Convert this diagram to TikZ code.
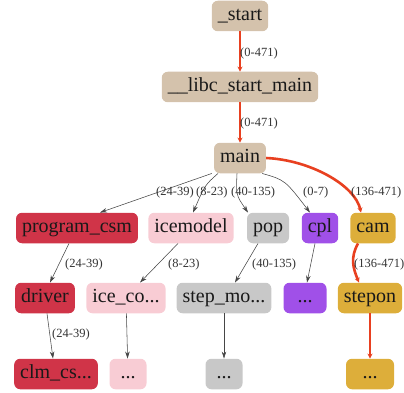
\documentclass[tikz,border=0pt]{standalone}
\usepackage{fontspec}
\setmainfont{Liberation Serif}
\usetikzlibrary{arrows.meta}

\definecolor{tan}{RGB}{212,194,172}
\definecolor{crim}{RGB}{208,52,72}
\definecolor{pinky}{RGB}{248,204,212}
\definecolor{greyish}{RGB}{200,200,200}
\definecolor{purp}{RGB}{160,80,232}
\definecolor{gold}{RGB}{221,174,58}
\definecolor{hot}{RGB}{232,64,32}
\definecolor{thin}{RGB}{70,70,70}

\begin{document}
\begin{tikzpicture}[x=1pt,y=1pt]
      \tikzstyle{every node}+=[inner sep=0pt]
      \tikzstyle{fn}=[rounded corners=6pt, inner xsep=6pt, inner ysep=6.5pt, text height=13.5pt, text depth=4pt, font=\fontsize{20}{23}\selectfont, text=black!90]
      \tikzstyle{lbl}=[anchor=west, font=\fontsize{12.5}{15}\selectfont, text=black!80]
      \tikzstyle{call}=[draw=thin, line width=0.55pt, -{Stealth[length=7pt,width=4.5pt]}]
      \tikzstyle{hotcall}=[draw=hot, line width=2.6pt, -{Stealth[length=5pt,width=5pt]}]
      \useasboundingbox (0,0) rectangle (404,-393);
      % nodes
      \node [fn, fill=tan] (start) at (240,-16) {\_start};
      \node [fn, fill=tan] (libc) at (240,-87) {\_\_libc\_start\_main};
      \node [fn, fill=tan] (main) at (240,-158) {main};
      \node [fn, fill=crim] (progcsm) at (77,-228) {program\_csm};
      \node [fn, fill=pinky] (icemodel) at (191,-228) {icemodel};
      \node [fn, fill=greyish] (pop) at (268,-228) {pop};
      \node [fn, fill=purp] (cpl) at (320,-228) {cpl};
      \node [fn, fill=gold] (cam) at (373,-228) {cam};
      \node [fn, fill=crim] (driver) at (45,-298) {driver};
      \node [fn, fill=pinky] (iceco) at (126,-298) {ice\_co...};
      \node [fn, fill=greyish] (stepmo) at (224,-298) {step\_mo...};
      \node [fn, fill=purp, minimum width=43pt] (cplmore) at (305,-298) {...};
      \node [fn, fill=gold] (stepon) at (370,-298) {stepon};
      \node [fn, fill=crim] (clmcs) at (56,-374) {clm\_cs...};
      \node [fn, fill=pinky, minimum width=37pt] (icemore) at (128,-374) {...};
      \node [fn, fill=greyish, minimum width=37pt] (stepmore) at (224,-374) {...};
      \node [fn, fill=gold, minimum width=48pt] (steponmore) at (370,-374) {...};
      % hot path
      \draw [hotcall] (start) -- (libc);
      \draw [hotcall] (libc) -- (main);
      \draw [hotcall] (main.east) .. controls (310,-160) and (355,-185) .. ([xshift=-12pt]cam.north);
      \draw [hotcall] ([xshift=-15pt]cam.south) .. controls (350,-258) and (353,-268) .. ([xshift=-11pt]stepon.north);
      \draw [hotcall] (stepon) -- (steponmore);
      % other calls
      \draw [call] ([xshift=-2pt]main.south west) -- ([xshift=23pt]progcsm.north);
      \draw [call] ([xshift=-22pt]main.south) .. controls (205,-185) .. ([xshift=2pt]icemodel.north);
      \draw [call] ([xshift=-3pt]main.south) .. controls (236,-195) .. ([xshift=-20pt]pop.north);
      \draw [call] ([xshift=-4pt]main.south east) .. controls (285,-180) .. ([xshift=-10pt]cpl.north);
      \draw [call] ([xshift=-8pt]progcsm.south) -- ([xshift=5pt]driver.north);
      \draw [call] ([xshift=-13pt]icemodel.south) -- ([xshift=14pt]iceco.north);
      \draw [call] ([xshift=-10pt]pop.south) -- ([xshift=11pt]stepmo.north);
      \draw [call] ([xshift=-5pt]cpl.south) -- ([xshift=2pt]cplmore.north);
      \draw [call] ([xshift=2pt]driver.south) -- ([xshift=-3pt]clmcs.north);
      \draw [call] (iceco) -- (icemore);
      \draw [call] (stepmo) -- (stepmore);
      % labels
      \node [lbl] (l1) at (240,-53) {(0-471)};
      \node [lbl] (l2) at (240,-123) {(0-471)};
      \node [lbl] (l3) at (156,-192) {(24-39)};
      \node [lbl] (l4) at (196,-192) {(8-23)};
      \node [lbl] (l5) at (231,-192) {(40-135)};
      \node [lbl] (l6) at (303,-192) {(0-7)};
      \node [lbl] (l7) at (351,-192) {(136-471)};
      \node [lbl] (l8) at (65,-264) {(24-39)};
      \node [lbl] (l9) at (168,-264) {(8-23)};
      \node [lbl] (l10) at (252,-264) {(40-135)};
      \node [lbl] (l11) at (354,-264) {(136-471)};
      \node [lbl] (l12) at (52,-334) {(24-39)};
\end{tikzpicture}
\end{document}
